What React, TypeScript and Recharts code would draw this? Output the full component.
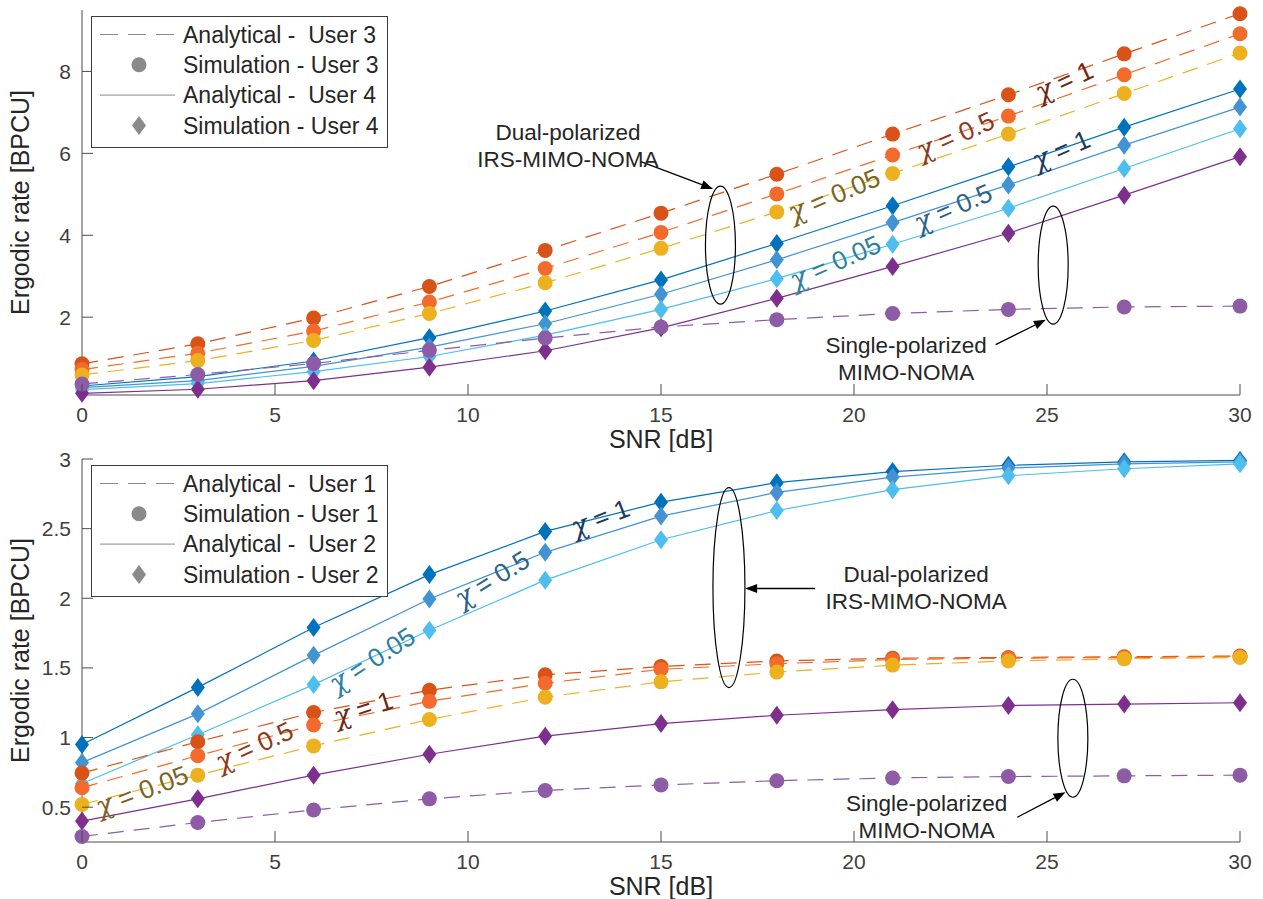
import React from 'react';
import {
  ComposedChart,
  Line,
  Scatter,
  XAxis,
  YAxis,
  Legend,
  Label,
  ReferenceDot,
  ReferenceLine,
} from 'recharts';

// SNR grid (dB), shared by both panels
const SNR = [0, 3, 6, 9, 12, 15, 18, 21, 24, 27, 30];
const xTicks = [0, 5, 10, 15, 20, 25, 30];

// upper panel: users 3 and 4
const user3Dual1 = [0.86, 1.35, 1.98, 2.75, 3.63, 4.54, 5.49, 6.47, 7.43, 8.43, 9.41];
const user3Dual05 = [0.72, 1.12, 1.66, 2.37, 3.19, 4.07, 5.01, 5.96, 6.91, 7.92, 8.92];
const user3Dual005 = [0.59, 0.94, 1.43, 2.09, 2.84, 3.68, 4.57, 5.51, 6.47, 7.46, 8.45];
const user3Single = [0.37, 0.6, 0.87, 1.19, 1.49, 1.76, 1.94, 2.09, 2.19, 2.25, 2.27];
const user4Dual1 = [0.32, 0.55, 0.93, 1.5, 2.15, 2.91, 3.8, 4.72, 5.67, 6.64, 7.57];
const user4Dual05 = [0.28, 0.45, 0.8, 1.27, 1.84, 2.56, 3.4, 4.31, 5.23, 6.2, 7.13];
const user4Dual005 = [0.23, 0.38, 0.67, 1.04, 1.56, 2.19, 2.94, 3.78, 4.66, 5.63, 6.6];
const user4Single = [0.14, 0.24, 0.45, 0.78, 1.18, 1.74, 2.46, 3.24, 4.05, 4.98, 5.92];
const topYTicks = [2, 4, 6, 8];

// lower panel: users 1 and 2
const user1Dual1 = [0.745, 0.97, 1.18, 1.34, 1.45, 1.51, 1.55, 1.57, 1.575, 1.58, 1.585];
const user1Dual05 = [0.64, 0.87, 1.09, 1.26, 1.39, 1.49, 1.53, 1.56, 1.57, 1.575, 1.58];
const user1Dual005 = [0.52, 0.73, 0.94, 1.13, 1.29, 1.4, 1.47, 1.52, 1.55, 1.565, 1.575];
const user1Single = [0.29, 0.39, 0.48, 0.56, 0.62, 0.66, 0.69, 0.71, 0.72, 0.725, 0.73];
const user2Dual1 = [0.95, 1.36, 1.79, 2.17, 2.48, 2.69, 2.83, 2.91, 2.955, 2.98, 2.99];
const user2Dual05 = [0.82, 1.17, 1.59, 1.995, 2.33, 2.59, 2.76, 2.87, 2.935, 2.965, 2.98];
const user2Dual005 = [0.67, 1.02, 1.38, 1.77, 2.13, 2.42, 2.63, 2.78, 2.88, 2.93, 2.965];
const user2Single = [0.4, 0.56, 0.73, 0.88, 1.01, 1.1, 1.16, 1.2, 1.23, 1.24, 1.25];
const bottomYTicks = [0.5, 1, 1.5, 2, 2.5, 3];

const FONT = '"Liberation Sans", Arial, Helvetica, sans-serif';
const GREEK = '"DejaVu Serif", serif';
const AXIS = '#4d4d4d';
const TICK_TEXT = '#404040';
const DARK = '#262626';
const TICK_LEN = 11;

const C = {
  darkOrange: '#D95319',
  orange: '#F26B2C',
  yellow: '#EDB120',
  lilac: '#8E5BA6',
  blue: '#0072BD',
  midBlue: '#4393D3',
  lightBlue: '#4DBEEE',
  purple: '#7E2F8E',
};

type Series = { key: string; values: number[]; color: string; dashed: boolean; marker: 'circle' | 'diamond' };

const topSeries: Series[] = [
  { key: 'u4d1', values: user4Dual1, color: C.blue, dashed: false, marker: 'diamond' },
  { key: 'u4d05', values: user4Dual05, color: C.midBlue, dashed: false, marker: 'diamond' },
  { key: 'u4d005', values: user4Dual005, color: C.lightBlue, dashed: false, marker: 'diamond' },
  { key: 'u4s', values: user4Single, color: C.purple, dashed: false, marker: 'diamond' },
  { key: 'u3d1', values: user3Dual1, color: C.darkOrange, dashed: true, marker: 'circle' },
  { key: 'u3d05', values: user3Dual05, color: C.orange, dashed: true, marker: 'circle' },
  { key: 'u3d005', values: user3Dual005, color: C.yellow, dashed: true, marker: 'circle' },
  { key: 'u3s', values: user3Single, color: C.lilac, dashed: true, marker: 'circle' },
];

const bottomSeries: Series[] = [
  { key: 'u2d1', values: user2Dual1, color: C.blue, dashed: false, marker: 'diamond' },
  { key: 'u2d05', values: user2Dual05, color: C.midBlue, dashed: false, marker: 'diamond' },
  { key: 'u2d005', values: user2Dual005, color: C.lightBlue, dashed: false, marker: 'diamond' },
  { key: 'u2s', values: user2Single, color: C.purple, dashed: false, marker: 'diamond' },
  { key: 'u1d1', values: user1Dual1, color: C.darkOrange, dashed: true, marker: 'circle' },
  { key: 'u1d05', values: user1Dual05, color: C.orange, dashed: true, marker: 'circle' },
  { key: 'u1d005', values: user1Dual005, color: C.yellow, dashed: true, marker: 'circle' },
  { key: 'u1s', values: user1Single, color: C.lilac, dashed: true, marker: 'circle' },
];

// annotation anchors in data units
type ChiNote = { x: number; y: number; value: string; color: string; angle: number };
type Note = { x: number; y: number; lines: string[] };
type Oval = { x: number; y: number; rx: number; ry: number };
type Arrow = { from: [number, number]; to: [number, number] };

const topChi: ChiNote[] = [
  { x: 25.44, y: 7.77, value: '1', color: '#6e2713', angle: 25 },
  { x: 22.62, y: 6.44, value: '0.5', color: '#8b3a1c', angle: 24 },
  { x: 19.48, y: 4.99, value: '0.05', color: '#7a6424', angle: 23 },
  { x: 25.36, y: 6.09, value: '1', color: '#1a3a5c', angle: 24 },
  { x: 22.56, y: 4.68, value: '0.5', color: '#2b628a', angle: 24 },
  { x: 19.51, y: 3.35, value: '0.05', color: '#2e7f9f', angle: 24 },
];
const bottomChi: ChiNote[] = [
  { x: 13.42, y: 2.58, value: '1', color: '#1a3a5c', angle: 21 },
  { x: 10.62, y: 2.14, value: '0.5', color: '#2b628a', angle: 32 },
  { x: 7.51, y: 1.56, value: '0.05', color: '#2e7f9f', angle: 33 },
  { x: 7.28, y: 1.21, value: '1', color: '#6e2713', angle: 18 },
  { x: 4.46, y: 0.94, value: '0.5', color: '#8b3a1c', angle: 25 },
  { x: 1.55, y: 0.62, value: '0.05', color: '#7a6424', angle: 21 },
];

const topNotes: Note[] = [
  { x: 12.59, y: 6.23, lines: ['Dual-polarized', 'IRS-MIMO-NOMA'] },
  { x: 21.35, y: 1.02, lines: ['Single-polarized', 'MIMO-NOMA'] },
];
const bottomNotes: Note[] = [
  { x: 21.61, y: 2.086, lines: ['Dual-polarized', 'IRS-MIMO-NOMA'] },
  { x: 21.88, y: 0.444, lines: ['Single-polarized', 'MIMO-NOMA'] },
];

const topOvals: Oval[] = [
  { x: 16.54, y: 3.76, rx: 15, ry: 59 },
  { x: 25.16, y: 3.27, rx: 15, ry: 59 },
];
const bottomOvals: Oval[] = [
  { x: 16.76, y: 2.077, rx: 16, ry: 100 },
  { x: 25.67, y: 0.995, rx: 15, ry: 59 },
];

const topArrows: Arrow[] = [
  { from: [14.48, 5.8], to: [16.35, 5.13] },
  { from: [23.67, 1.33], to: [24.97, 1.94] },
];
const bottomArrows: Arrow[] = [
  { from: [18.99, 2.07], to: [17.18, 2.07] },
  { from: [24.23, 0.428], to: [25.48, 0.608] },
];

function makeRows(series: Series[]) {
  return SNR.map((s, i) => {
    const row: Record<string, number> = { snr: s };
    series.forEach(se => (row[se.key] = se.values[i]));
    return row;
  });
}

// ticks point inwards, MATLAB style
const BottomTick = ({ x, y, payload }: any) => (
  <g>
    <line x1={x} x2={x} y1={y - 12} y2={y - 12 - TICK_LEN} stroke={AXIS} />
    <text x={x} y={y} dy="0.72em" textAnchor="middle" fontSize={21} fontFamily={FONT} fill={TICK_TEXT}>
      {payload.value}
    </text>
  </g>
);
const LeftTick = ({ x, y, payload }: any) => (
  <g>
    <line x1={x + 11} x2={x + 11 + TICK_LEN} y1={y} y2={y} stroke={AXIS} />
    <text x={x} y={y} dy="0.36em" textAnchor="end" fontSize={21} fontFamily={FONT} fill={TICK_TEXT}>
      {payload.value}
    </text>
  </g>
);
const TopTick = ({ x, y }: any) => <line x1={x} x2={x} y1={y} y2={y + TICK_LEN} stroke={AXIS} />;
const RightTick = ({ x, y }: any) => <line x1={x} x2={x - TICK_LEN} y1={y} y2={y} stroke={AXIS} />;

const XTitle = ({ viewBox }: any) => (
  <text
    x={viewBox.x + viewBox.width / 2}
    y={viewBox.y + 44}
    dy="0.36em"
    textAnchor="middle"
    fontSize={25}
    fontFamily={FONT}
    fill={DARK}
  >
    SNR [dB]
  </text>
);
const YTitle = ({ viewBox }: any) => {
  const cy = viewBox.y + viewBox.height / 2;
  return (
    <text
      x={20}
      y={cy}
      dy="0.36em"
      transform={`rotate(-90 20 ${cy})`}
      textAnchor="middle"
      fontSize={25}
      fontFamily={FONT}
      fill={DARK}
    >
      Ergodic rate [BPCU]
    </text>
  );
};

const circleShape = (color: string) => (p: any) => <circle cx={p.cx} cy={p.cy} r={7.5} fill={color} />;
const diamondShape = (color: string) => (p: any) => (
  <path
    d={`M${p.cx},${p.cy - 9.5} L${p.cx + 7},${p.cy} L${p.cx},${p.cy + 9.5} L${p.cx - 7},${p.cy} Z`}
    fill={color}
  />
);

function LegendBox({ users }: { users: [number, number] }) {
  const gray = '#8a8a8a';
  const rows = [
    { label: `Analytical -  User ${users[0]}`, kind: 'dash' },
    { label: `Simulation - User ${users[0]}`, kind: 'circle' },
    { label: `Analytical -  User ${users[1]}`, kind: 'solid' },
    { label: `Simulation - User ${users[1]}`, kind: 'diamond' },
  ];
  return (
    <svg width={298} height={132} style={{ display: 'block' }}>
      <rect x={0.5} y={0.5} width={296} height={131} fill="#fff" stroke="#3c3c3c" />
      {rows.map((r, i) => {
        const y = 18.5 + i * 30.3;
        return (
          <g key={i}>
            {r.kind === 'dash' && <line x1={9} x2={84} y1={y} y2={y} stroke={gray} strokeDasharray="18 10" />}
            {r.kind === 'solid' && <line x1={9} x2={84} y1={y} y2={y} stroke={gray} />}
            {r.kind === 'circle' && <circle cx={48} cy={y} r={7.5} fill={gray} />}
            {r.kind === 'diamond' && (
              <path d={`M48,${y - 9.5} L55,${y} L48,${y + 9.5} L41,${y} Z`} fill={gray} />
            )}
            <text
              x={92}
              y={y}
              dy="0.36em"
              fontSize={23}
              fontFamily={FONT}
              fill={DARK}
              style={{ whiteSpace: 'pre' }}
            >
              {r.label}
            </text>
          </g>
        );
      })}
    </svg>
  );
}

function arrowShape(p: any) {
  const { x1, y1, x2, y2 } = p;
  const ang = Math.atan2(y2 - y1, x2 - x1);
  const len = 12;
  const half = 4.5;
  const bx = x2 - len * Math.cos(ang);
  const by = y2 - len * Math.sin(ang);
  const nx = -Math.sin(ang) * half;
  const ny = Math.cos(ang) * half;
  return (
    <g>
      <line x1={x1} y1={y1} x2={bx} y2={by} stroke="#000" strokeWidth={1.3} />
      <path d={`M${x2},${y2} L${bx + nx},${by + ny} L${bx - nx},${by - ny} Z`} fill="#000" />
    </g>
  );
}

type PanelProps = {
  series: Series[];
  height: number;
  marginTop: number;
  yDomain: [number, number];
  yTicks: number[];
  users: [number, number];
  legendTop: number;
  chi: ChiNote[];
  notes: Note[];
  ovals: Oval[];
  arrows: Arrow[];
};

function Panel({ series, height, marginTop, yDomain, yTicks, users, legendTop, chi, notes, ovals, arrows }: PanelProps) {
  const rows = makeRows(series);
  const diamonds = series.filter(s => s.marker === 'diamond');
  const circles = series.filter(s => s.marker === 'circle');
  return (
    <ComposedChart width={1263} height={height} data={rows} margin={{ top: marginTop, right: 23, left: 0, bottom: 0 }}>
      <XAxis
        dataKey="snr"
        type="number"
        domain={[0, 30]}
        ticks={xTicks}
        interval={0}
        height={57}
        tickSize={0}
        tickMargin={12}
        tick={<BottomTick />}
        axisLine={{ stroke: AXIS }}
      >
        <Label content={<XTitle />} />
      </XAxis>
      <XAxis
        xAxisId="top"
        orientation="top"
        type="number"
        domain={[0, 30]}
        ticks={xTicks}
        interval={0}
        height={0}
        tickSize={0}
        tickMargin={0}
        tick={<TopTick />}
        axisLine={{ stroke: AXIS }}
      />
      <YAxis
        type="number"
        domain={yDomain}
        ticks={yTicks}
        interval={0}
        width={82}
        tickSize={0}
        tickMargin={11}
        tick={<LeftTick />}
        axisLine={{ stroke: AXIS }}
      >
        <Label content={<YTitle />} />
      </YAxis>
      <YAxis
        yAxisId="right"
        orientation="right"
        type="number"
        domain={yDomain}
        ticks={yTicks}
        interval={0}
        width={0}
        tickSize={0}
        tickMargin={0}
        tick={<RightTick />}
        axisLine={{ stroke: AXIS }}
      />
      <Legend
        layout="vertical"
        align="center"
        verticalAlign="middle"
        wrapperStyle={{ left: 91, top: legendTop, width: 298, height: 132 }}
        content={() => <LegendBox users={users} />}
      />
      {series.map(s => (
        <Line
          key={`l-${s.key}`}
          type="linear"
          dataKey={s.key}
          stroke={s.color}
          strokeWidth={1.2}
          strokeDasharray={s.dashed ? '16 10' : undefined}
          dot={false}
          activeDot={false}
          isAnimationActive={false}
        />
      ))}
      {diamonds.map(s => (
        <Scatter key={`d-${s.key}`} dataKey={s.key} fill={s.color} shape={diamondShape(s.color)} isAnimationActive={false} />
      ))}
      {circles.map(s => (
        <Scatter key={`c-${s.key}`} dataKey={s.key} fill={s.color} shape={circleShape(s.color)} isAnimationActive={false} />
      ))}
      {ovals.map((o, i) => (
        <ReferenceDot
          key={`o-${i}`}
          x={o.x}
          y={o.y}
          r={0}
          ifOverflow="visible"
          shape={(p: any) => <ellipse cx={p.cx} cy={p.cy} rx={o.rx} ry={o.ry} fill="none" stroke="#000" strokeWidth={1.2} />}
        />
      ))}
      {arrows.map((a, i) => (
        <ReferenceLine
          key={`a-${i}`}
          segment={[{ x: a.from[0], y: a.from[1] }, { x: a.to[0], y: a.to[1] }]}
          ifOverflow="visible"
          shape={arrowShape}
        />
      ))}
      {notes.map((n, i) => (
        <ReferenceDot
          key={`n-${i}`}
          x={n.x}
          y={n.y}
          r={0}
          ifOverflow="visible"
          shape={(p: any) => (
            <text x={p.cx} y={p.cy} textAnchor="middle" fontSize={22.5} fontFamily={FONT} fill={DARK}>
              <tspan x={p.cx} dy="-0.18em">{n.lines[0]}</tspan>
              <tspan x={p.cx} dy="1.2em">{n.lines[1]}</tspan>
            </text>
          )}
        />
      ))}
      {chi.map((c, i) => (
        <ReferenceDot
          key={`x-${i}`}
          x={c.x}
          y={c.y}
          r={0}
          ifOverflow="visible"
          shape={(p: any) => (
            <text
              x={p.cx}
              y={p.cy}
              dy="0.36em"
              textAnchor="middle"
              fontSize={26}
              fontFamily={FONT}
              fill={c.color}
              style={{ whiteSpace: 'pre' }}
              transform={`rotate(${-c.angle} ${p.cx} ${p.cy})`}
            >
              <tspan fontFamily={GREEK} fontStyle="italic" fontSize={27}>χ</tspan>
              <tspan>{` = ${c.value}`}</tspan>
            </text>
          )}
        />
      ))}
    </ComposedChart>
  );
}

export default function App() {
  return (
    <div style={{ position: 'absolute', left: 0, top: 0, width: 1263, height: 899, background: '#fff', fontFamily: FONT }}>
      <div style={{ position: 'absolute', left: 0, top: 0 }}>
        <Panel
          series={topSeries}
          height={452}
          marginTop={10}
          yDomain={[0.1, 9.5]}
          yTicks={topYTicks}
          users={[3, 4]}
          legendTop={16}
          chi={topChi}
          notes={topNotes}
          ovals={topOvals}
          arrows={topArrows}
        />
      </div>
      <div style={{ position: 'absolute', left: 0, top: 440 }}>
        <Panel
          series={bottomSeries}
          height={459}
          marginTop={19}
          yDomain={[0.25, 3]}
          yTicks={bottomYTicks}
          users={[1, 2]}
          legendTop={25}
          chi={bottomChi}
          notes={bottomNotes}
          ovals={bottomOvals}
          arrows={bottomArrows}
        />
      </div>
    </div>
  );
}
